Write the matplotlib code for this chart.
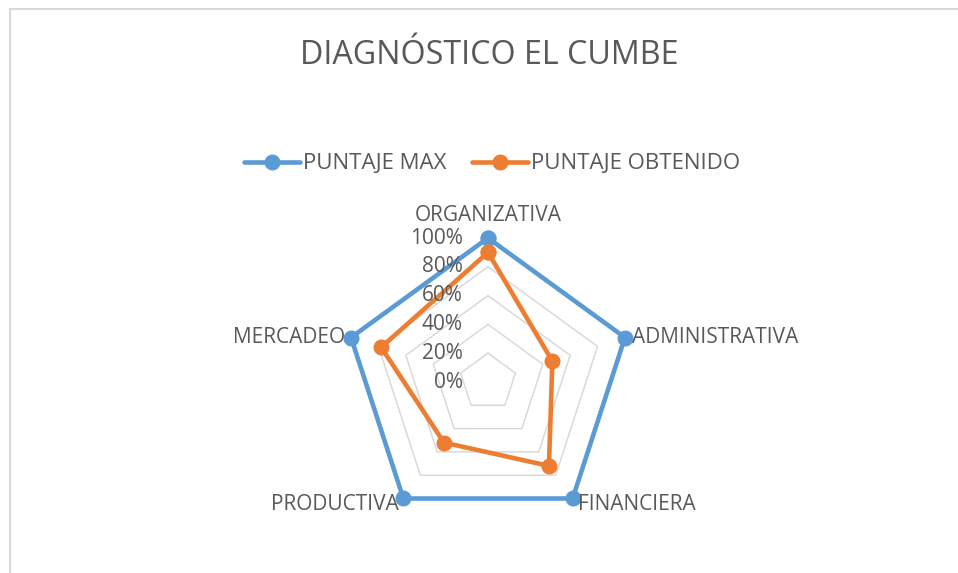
import numpy as np
import matplotlib
matplotlib.use("Agg")
import matplotlib.pyplot as plt
from matplotlib.lines import Line2D

plt.rcParams["font.family"] = ["Open Sans", "DejaVu Sans"]

# data
categorias = ["ORGANIZATIVA", "ADMINISTRATIVA", "FINANCIERA", "PRODUCTIVA", "MERCADEO"]
puntaje_max = [1.0, 1.0, 1.0, 1.0, 1.0]
puntaje_obtenido = [0.90, 0.47, 0.72, 0.52, 0.78]
niveles = [0.0, 0.2, 0.4, 0.6, 0.8, 1.0]
etiquetas_niveles = ["0%", "20%", "40%", "60%", "80%", "100%"]

AZUL = "#5B9BD5"
NARANJA = "#ED7D31"
TEXTO = "#595959"
GRID = "#D9D9D9"

W, H = 958, 573
fig = plt.figure(figsize=(W / 100, H / 100), dpi=100)

# borde del area del grafico
fig.add_artist(Line2D([10 / W, 10 / W], [0, 1 - 9 / H], color=GRID, lw=1.5))
fig.add_artist(Line2D([10 / W, 1], [1 - 9 / H, 1 - 9 / H], color=GRID, lw=1.5))

cx, cy, r = 488, 382, 144
ax = fig.add_axes([(cx - r) / W, (H - cy - r) / H, 2 * r / W, 2 * r / H], projection="polar")
ax.set_theta_offset(np.pi / 2)
ax.set_theta_direction(-1)
ax.set_ylim(0, 1)
ax.grid(False)
ax.spines["polar"].set_visible(False)
ax.set_xticks([])
ax.set_yticks([])
ax.patch.set_alpha(0)

n = len(categorias)
ang = np.linspace(0, 2 * np.pi, n, endpoint=False)
ang_c = np.append(ang, ang[0])

for nivel in niveles[1:]:
    ax.plot(ang_c, [nivel] * (n + 1), color=GRID, lw=1.1, zorder=1)

ax.plot(ang_c, puntaje_max + puntaje_max[:1], color=AZUL, lw=3.3, marker="o",
        markersize=10.5, zorder=3, clip_on=False, solid_joinstyle="round")
ax.plot(ang_c, puntaje_obtenido + puntaje_obtenido[:1], color=NARANJA, lw=3.3, marker="o",
        markersize=10.5, zorder=4, clip_on=False, solid_joinstyle="round")

# etiquetas de niveles
for nivel, txt in zip(niveles, etiquetas_niveles):
    ax.annotate(txt, xy=(0, nivel), xytext=(-18, 0), textcoords="offset points",
                ha="right", va="center", fontsize=15, color=TEXTO, zorder=5,
                annotation_clip=False)

# etiquetas de categorias
offsets = [(0, 16, "center"), (5, 0, "left"), (4, -4, "left"), (-3, -4, "right"), (-4, 0, "right")]
for a, cat, (dx, dy, ha) in zip(ang, categorias, offsets):
    ax.annotate(cat, xy=(a, 1.0), xytext=(dx, dy), textcoords="offset points",
                ha=ha, va="center", fontsize=15, color=TEXTO, zorder=5,
                annotation_clip=False)

fig.text(489 / W, 1 - 55 / H, "DIAGNÓSTICO EL CUMBE", ha="center", va="center",
         fontsize=23.2, color=TEXTO)

handles = [
    Line2D([], [], color=AZUL, lw=3.3, marker="o", markersize=10.5, solid_capstyle="round"),
    Line2D([], [], color=NARANJA, lw=3.3, marker="o", markersize=10.5, solid_capstyle="round"),
]
fig.legend(handles, ["PUNTAJE MAX", "PUNTAJE OBTENIDO"], loc="center",
           bbox_to_anchor=(492 / W, 1 - 164 / H), ncol=2, frameon=False,
           fontsize=16, labelcolor=TEXTO, handlelength=2.5, handletextpad=0.14,
           columnspacing=1.15)

fig.savefig("out.png", dpi=100, facecolor="white")
